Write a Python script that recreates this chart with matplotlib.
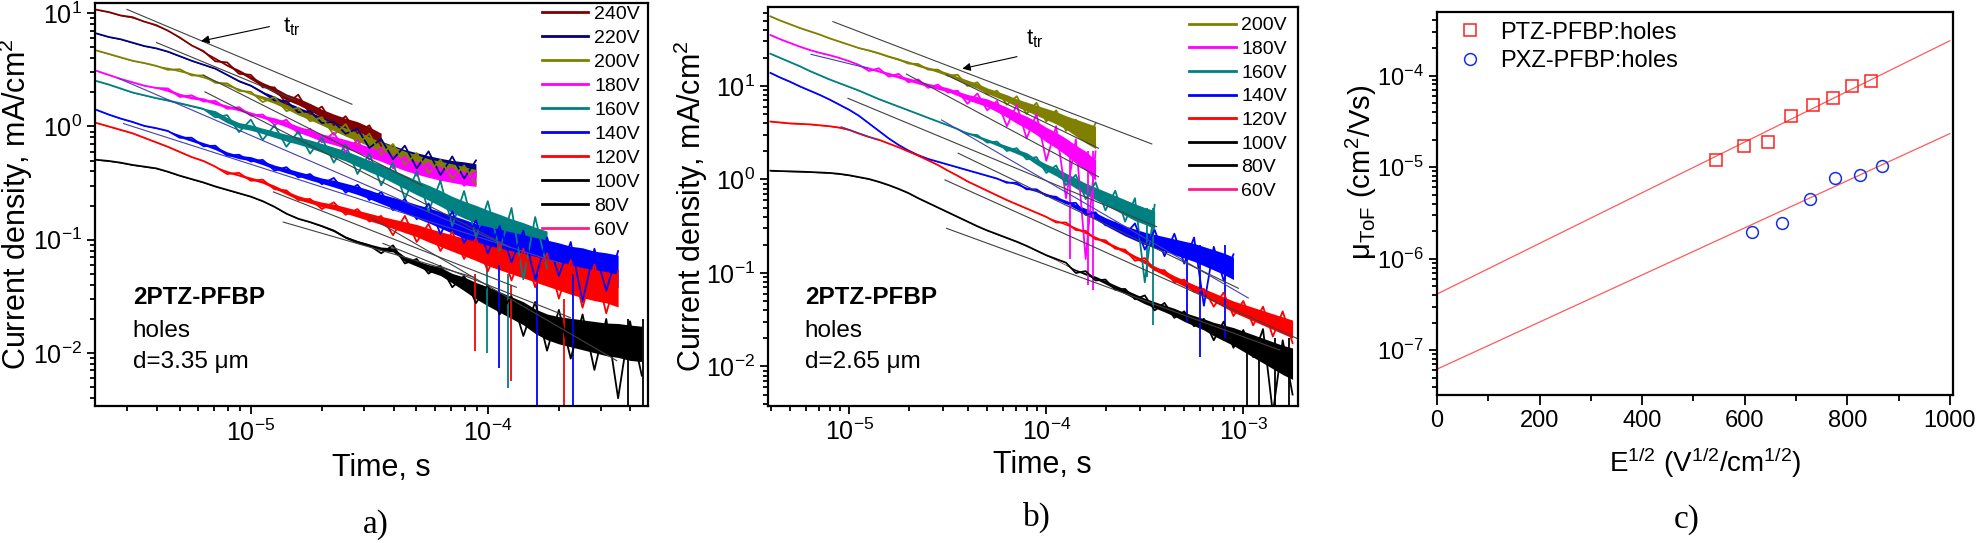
import numpy as np
import matplotlib
matplotlib.use('Agg')
import matplotlib.pyplot as plt
from matplotlib.lines import Line2D
from matplotlib.ticker import LogLocator, NullFormatter, MultipleLocator

plt.rcParams['font.family'] = ['Liberation Sans', 'DejaVu Sans']
plt.rcParams['mathtext.fontset'] = 'custom'
plt.rcParams['mathtext.rm'] = 'Liberation Sans'
plt.rcParams['mathtext.it'] = 'Liberation Sans:italic'
plt.rcParams['mathtext.bf'] = 'Liberation Sans:bold'

# ---- a) 2PTZ-PFBP, d=3.35 um
# log10(t, s) grid; per voltage: tr = read trace log10(j, mA/cm2) (peaks/valleys),
# mid = trace centre, nz = half width of the noise band (decades)
lg_t_a = [-5.65, -5.60, -5.55, -5.50, -5.45, -5.40, -5.35, -5.30, -5.25, -5.20,
          -5.15, -5.10, -5.05, -5.00, -4.95, -4.90, -4.85, -4.80, -4.75, -4.70,
          -4.65, -4.60, -4.55, -4.50, -4.45, -4.40, -4.35, -4.30, -4.25, -4.20,
          -4.15, -4.10, -4.05, -4.00, -3.95, -3.90, -3.85, -3.80, -3.75, -3.70,
          -3.65, -3.60, -3.55, -3.50, -3.45, -3.40, -3.35]
tr_a_240 = [1.03, 1.01, 0.98, 0.965, 0.925, 0.895, 0.845, 0.785, 0.715, 0.665,
            0.575, 0.565, 0.465, 0.455, 0.345, 0.345, 0.20, 0.28, 0.11, 0.175,
            0.01, 0.09, -0.06, 0.01, -0.17]
mid_a_240 = [1.03, 1.01, 0.98, 0.96, 0.93, 0.89, 0.85, 0.78, 0.72, 0.66,
             0.60, 0.54, 0.49, 0.43, 0.37, 0.32, 0.26, 0.22, 0.17, 0.115,
             0.07, 0.03, 0.0, -0.05, -0.105]
nz_a_240 = [0.005, 0.005, 0.005, 0.005, 0.005, 0.005, 0.005, 0.005, 0.005, 0.01,
            0.015, 0.015, 0.02, 0.025, 0.03, 0.04, 0.045, 0.05, 0.055, 0.06,
            0.065, 0.07, 0.07, 0.075, 0.075]
tr_a_220 = [0.82, 0.79, 0.77, 0.74, 0.71, 0.69, 0.66, 0.62, 0.58, 0.545,
            0.51, 0.455, 0.40, 0.36, 0.30, 0.23, 0.225, 0.125, 0.135, 0.03,
            0.04, -0.065, -0.02, -0.19, -0.11, -0.29, -0.17, -0.37, -0.22, -0.43,
            -0.265, -0.46, -0.30]
mid_a_220 = [0.82, 0.79, 0.77, 0.74, 0.71, 0.69, 0.66, 0.62, 0.58, 0.545,
             0.51, 0.455, 0.40, 0.36, 0.30, 0.255, 0.20, 0.155, 0.105, 0.06,
             0.01, -0.035, -0.08, -0.13, -0.17, -0.21, -0.25, -0.28, -0.31, -0.335,
             -0.355, -0.37, -0.39]
nz_a_220 = [0.005, 0.005, 0.005, 0.005, 0.005, 0.005, 0.005, 0.005, 0.005, 0.005,
            0.005, 0.005, 0.01, 0.01, 0.015, 0.02, 0.025, 0.03, 0.035, 0.04,
            0.045, 0.05, 0.055, 0.06, 0.065, 0.07, 0.075, 0.08, 0.085, 0.09,
            0.09, 0.095, 0.10]
tr_a_200 = [0.67, 0.64, 0.61, 0.58, 0.56, 0.535, 0.50, 0.505, 0.45, 0.45,
            0.385, 0.38, 0.315, 0.305, 0.215, 0.26, 0.135, 0.165, 0.045, 0.08,
            -0.075, 0.02, -0.16, -0.065, -0.25, -0.155, -0.34, -0.235, -0.41, -0.295,
            -0.46, -0.345, -0.51]
mid_a_200 = [0.67, 0.64, 0.61, 0.58, 0.56, 0.535, 0.515, 0.49, 0.465, 0.435,
             0.40, 0.365, 0.33, 0.29, 0.255, 0.22, 0.175, 0.125, 0.085, 0.04,
             -0.005, -0.05, -0.09, -0.135, -0.18, -0.225, -0.27, -0.305, -0.34, -0.365,
             -0.39, -0.415, -0.44]
nz_a_200 = [0.005, 0.005, 0.005, 0.005, 0.005, 0.005, 0.012, 0.012, 0.012, 0.012,
            0.012, 0.012, 0.012, 0.012, 0.025, 0.03, 0.035, 0.04, 0.045, 0.05,
            0.055, 0.06, 0.065, 0.07, 0.075, 0.08, 0.085, 0.09, 0.09, 0.095,
            0.10, 0.10, 0.10]
tr_a_180 = [0.49, 0.455, 0.42, 0.39, 0.36, 0.34, 0.335, 0.26, 0.275, 0.22,
            0.225, 0.155, 0.17, 0.095, 0.105, 0.015, 0.06, -0.065, -0.02, -0.14,
            -0.055, -0.225, -0.12, -0.295, -0.19, -0.37, -0.265, -0.435, -0.32, -0.485,
            -0.365, -0.525, -0.40]
mid_a_180 = [0.49, 0.455, 0.42, 0.39, 0.36, 0.34, 0.32, 0.28, 0.255, 0.24,
             0.205, 0.175, 0.15, 0.115, 0.085, 0.055, 0.02, -0.025, -0.06, -0.10,
             -0.125, -0.155, -0.19, -0.225, -0.26, -0.30, -0.335, -0.365, -0.39, -0.415,
             -0.435, -0.455, -0.47]
nz_a_180 = [0.005, 0.005, 0.005, 0.005, 0.005, 0.005, 0.02, 0.02, 0.02, 0.02,
            0.02, 0.02, 0.02, 0.02, 0.02, 0.035, 0.04, 0.045, 0.05, 0.055,
            0.06, 0.065, 0.07, 0.075, 0.08, 0.085, 0.09, 0.095, 0.10, 0.10,
            0.10, 0.10, 0.10]
tr_a_160 = [0.40, 0.37, 0.335, 0.30, 0.275, 0.25, 0.23, 0.205, 0.18, 0.155,
            0.08, 0.10, -0.05, 0.06, -0.12, 0.01, -0.18, -0.045, -0.24, -0.10,
            -0.32, -0.16, -0.42, -0.24, -0.52, -0.32, -0.64, -0.40, -0.75, -0.48,
            -0.88, -0.57, -0.98, -0.66, -1.10, -0.72, -1.35, -0.80, -1.25]
mid_a_160 = [0.40, 0.37, 0.335, 0.30, 0.275, 0.25, 0.23, 0.205, 0.18, 0.155,
             0.115, 0.055, 0.01, -0.01, -0.04, -0.07, -0.10, -0.125, -0.155, -0.19,
             -0.225, -0.26, -0.305, -0.35, -0.39, -0.44, -0.49, -0.54, -0.585, -0.635,
             -0.69, -0.735, -0.775, -0.82, -0.86, -0.90, -0.94, -0.98, -1.02]
nz_a_160 = [0.005, 0.005, 0.005, 0.005, 0.005, 0.005, 0.01, 0.01, 0.01, 0.01,
            0.04, 0.04, 0.04, 0.04, 0.04, 0.045, 0.05, 0.055, 0.06, 0.065,
            0.07, 0.075, 0.08, 0.085, 0.09, 0.095, 0.10, 0.105, 0.11, 0.115,
            0.12, 0.125, 0.13, 0.135, 0.14, 0.14, 0.15, 0.15, 0.16]
tr_a_140 = [0.145, 0.105, 0.07, 0.04, 0.005, -0.015, -0.04, -0.10, -0.10, -0.175,
            -0.17, -0.26, -0.25, -0.31, -0.295, -0.39, -0.36, -0.45, -0.42, -0.51,
            -0.455, -0.585, -0.515, -0.65, -0.58, -0.74, -0.64, -0.82, -0.68, -0.95,
            -0.75, -1.03, -0.83, -1.12, -0.88, -1.20, -0.92, -1.35, -0.98, -1.32,
            -1.02, -1.55, -1.08, -1.45, -1.10]
mid_a_140 = [0.145, 0.105, 0.07, 0.04, 0.005, -0.015, -0.04, -0.085, -0.12, -0.155,
             -0.19, -0.24, -0.27, -0.285, -0.32, -0.36, -0.39, -0.42, -0.45, -0.48,
             -0.505, -0.535, -0.565, -0.60, -0.64, -0.675, -0.71, -0.75, -0.785, -0.825,
             -0.865, -0.905, -0.95, -0.98, -1.01, -1.04, -1.07, -1.10, -1.13, -1.16,
             -1.19, -1.21, -1.24, -1.26, -1.28]
nz_a_140 = [0.005, 0.005, 0.005, 0.005, 0.005, 0.005, 0.005, 0.02, 0.02, 0.02,
            0.025, 0.025, 0.025, 0.03, 0.03, 0.03, 0.035, 0.035, 0.04, 0.04,
            0.05, 0.055, 0.06, 0.065, 0.07, 0.08, 0.09, 0.10, 0.11, 0.12,
            0.13, 0.14, 0.15, 0.16, 0.17, 0.18, 0.19, 0.20, 0.21, 0.22,
            0.22, 0.23, 0.23, 0.24, 0.24]
tr_a_120 = [0.03, 0.0, -0.03, -0.06, -0.10, -0.14, -0.18, -0.225, -0.27, -0.305,
            -0.355, -0.42, -0.41, -0.48, -0.47, -0.555, -0.565, -0.65, -0.64, -0.73,
            -0.67, -0.78, -0.73, -0.84, -0.79, -0.96, -0.79, -1.02, -0.86, -1.10,
            -0.93, -1.17, -0.99, -1.28, -1.03, -1.36, -1.08, -1.42, -1.12, -1.52,
            -1.18, -1.60, -1.22, -1.65, -1.28]
mid_a_120 = [0.03, 0.0, -0.03, -0.06, -0.10, -0.14, -0.18, -0.225, -0.27, -0.305,
             -0.355, -0.40, -0.43, -0.46, -0.49, -0.535, -0.585, -0.63, -0.66, -0.69,
             -0.71, -0.74, -0.77, -0.80, -0.83, -0.86, -0.89, -0.92, -0.96, -0.995,
             -1.03, -1.065, -1.10, -1.14, -1.17, -1.20, -1.23, -1.26, -1.29, -1.32,
             -1.35, -1.38, -1.40, -1.42, -1.45]
nz_a_120 = [0.005, 0.005, 0.005, 0.005, 0.005, 0.005, 0.005, 0.005, 0.005, 0.005,
            0.005, 0.015, 0.015, 0.02, 0.02, 0.025, 0.025, 0.03, 0.03, 0.035,
            0.04, 0.045, 0.05, 0.055, 0.06, 0.07, 0.08, 0.09, 0.10, 0.11,
            0.12, 0.13, 0.14, 0.15, 0.16, 0.17, 0.18, 0.19, 0.20, 0.21,
            0.22, 0.22, 0.23, 0.23, 0.24]
tr_a_100 = [-0.295, -0.305, -0.32, -0.34, -0.355, -0.37, -0.40, -0.435, -0.465, -0.495,
            -0.53, -0.56, -0.59, -0.62, -0.66, -0.71, -0.77, -0.815, -0.845, -0.88,
            -0.92, -0.98, -1.02, -1.05, -1.12, -1.05, -1.21, -1.17, -1.30, -1.23,
            -1.42, -1.32, -1.56, -1.40, -1.66, -1.50, -1.85, -1.55, -1.98, -1.62,
            -2.05, -1.66, -2.15, -1.70, -2.40, -1.72, -2.20]
mid_a_100 = [-0.295, -0.305, -0.32, -0.34, -0.355, -0.37, -0.40, -0.435, -0.465, -0.495,
             -0.53, -0.56, -0.59, -0.62, -0.66, -0.71, -0.77, -0.815, -0.845, -0.88,
             -0.92, -0.98, -1.02, -1.05, -1.08, -1.09, -1.17, -1.21, -1.25, -1.28,
             -1.34, -1.39, -1.45, -1.50, -1.55, -1.60, -1.65, -1.72, -1.77, -1.80,
             -1.82, -1.84, -1.86, -1.88, -1.89, -1.91, -1.92]
nz_a_100 = [0.005, 0.005, 0.005, 0.005, 0.005, 0.005, 0.005, 0.005, 0.005, 0.005,
            0.005, 0.005, 0.005, 0.005, 0.005, 0.005, 0.005, 0.005, 0.005, 0.01,
            0.015, 0.015, 0.02, 0.02, 0.025, 0.03, 0.035, 0.04, 0.05, 0.06,
            0.07, 0.10, 0.12, 0.14, 0.15, 0.16, 0.17, 0.18, 0.19, 0.20,
            0.21, 0.22, 0.23, 0.24, 0.25, 0.26, 0.26]
# downward spikes in a): time, low end, high end, trace
spike_a_t = [9.9e-5, 1.22e-4, 8.8e-5, 1.25e-4, 2.1e-4, 1.11e-4, 1.62e-4, 2.3e-4, 3.9e-4, 4.5e-4]
spike_a_lo = [0.0099, 0.0049, 0.0105, 0.0057, 0.0034, 0.0074, 0.0034, 0.0034, 0.0034, 0.0034]
spike_a_hi = [0.06, 0.05, 0.05, 0.04, 0.03, 0.06, 0.05, 0.05, 0.02, 0.02]
spike_a_v = ['160V', '160V', '120V', '120V', '120V', '140V', '140V', '140V', '100V', '100V']
# straight guide lines in a): (t start, t end), (j start, j end)
fit_a_t = [(3.0e-6, 2.67e-5), (4.0e-6, 1.54e-5), (6.3e-6, 5.3e-5), (6.4e-6, 1.24e-4),
           (2.76e-6, 1.24e-4), (2.9e-6, 2.02e-4), (1.245e-5, 1.32e-4), (1.37e-5, 8.7e-5),
           (3.18e-5, 3.5e-4), (3.61e-5, 2.23e-4)]
fit_a_j = [(10.8, 1.57), (5.5, 1.71), (2.84, 0.30), (2.02, 0.086),
           (2.66, 0.086), (1.06, 0.062), (0.264, 0.038), (0.143, 0.0467),
           (0.158, 0.00855), (0.0927, 0.0205)]

# ---- b) 2PTZ-PFBP, d=2.65 um
lg_t_b = [-5.40, -5.35, -5.30, -5.25, -5.20, -5.15, -5.10, -5.05, -5.00, -4.95,
          -4.90, -4.85, -4.80, -4.75, -4.70, -4.65, -4.60, -4.55, -4.50, -4.45,
          -4.40, -4.35, -4.30, -4.25, -4.20, -4.15, -4.10, -4.05, -4.00, -3.95,
          -3.90, -3.85, -3.80, -3.75, -3.70, -3.65, -3.60, -3.55, -3.50, -3.45,
          -3.40, -3.35, -3.30, -3.25, -3.20, -3.15, -3.10, -3.05, -3.00, -2.95,
          -2.90, -2.85, -2.80, -2.75]
tr_b_200 = [1.745, 1.70, 1.66, 1.62, 1.585, 1.55, 1.51, 1.475, 1.44, 1.405,
            1.38, 1.35, 1.315, 1.285, 1.24, 1.235, 1.175, 1.175, 1.11, 1.12,
            1.00, 1.04, 0.91, 0.95, 0.80, 0.89, 0.70, 0.82, 0.62, 0.74,
            0.52, 0.64, 0.42, 0.60]
mid_b_200 = [1.745, 1.70, 1.66, 1.62, 1.585, 1.55, 1.51, 1.475, 1.44, 1.405,
             1.38, 1.35, 1.315, 1.285, 1.255, 1.22, 1.19, 1.16, 1.125, 1.08,
             1.04, 1.00, 0.95, 0.91, 0.87, 0.82, 0.78, 0.74, 0.70, 0.66,
             0.61, 0.555, 0.50, 0.45]
nz_b_200 = [0.005, 0.005, 0.005, 0.005, 0.005, 0.005, 0.005, 0.005, 0.005, 0.005,
            0.01, 0.012, 0.014, 0.016, 0.018, 0.02, 0.02, 0.025, 0.03, 0.035,
            0.04, 0.045, 0.05, 0.055, 0.06, 0.07, 0.08, 0.09, 0.10, 0.11,
            0.12, 0.15, 0.18, 0.20]
tr_b_180 = [1.545, 1.50, 1.46, 1.42, 1.385, 1.355, 1.33, 1.30, 1.265, 1.225,
            1.16, 1.19, 1.10, 1.13, 1.04, 1.07, 0.98, 1.015, 0.93, 0.95,
            0.81, 0.92, 0.74, 0.84, 0.57, 0.80, 0.44, 0.70, 0.20, 0.57,
            -0.20, 0.43, -0.85, 0.30]
mid_b_180 = [1.545, 1.50, 1.46, 1.42, 1.385, 1.355, 1.33, 1.30, 1.265, 1.225,
             1.19, 1.16, 1.13, 1.10, 1.07, 1.04, 1.01, 0.985, 0.96, 0.92,
             0.88, 0.85, 0.82, 0.77, 0.72, 0.66, 0.61, 0.55, 0.48, 0.42,
             0.35, 0.27, 0.20, 0.10]
nz_b_180 = [0.005, 0.005, 0.005, 0.005, 0.005, 0.005, 0.005, 0.005, 0.005, 0.005,
            0.02, 0.02, 0.025, 0.025, 0.03, 0.03, 0.03, 0.035, 0.035, 0.04,
            0.05, 0.06, 0.07, 0.08, 0.09, 0.10, 0.11, 0.12, 0.13, 0.14,
            0.15, 0.16, 0.17, 0.18]
tr_b_160 = [1.345, 1.30, 1.255, 1.21, 1.16, 1.115, 1.07, 1.03, 0.99, 0.95,
            0.905, 0.86, 0.82, 0.78, 0.74, 0.70, 0.66, 0.62, 0.58, 0.54,
            0.485, 0.475, 0.395, 0.405, 0.305, 0.335, 0.215, 0.24, 0.07, 0.15,
            -0.06, 0.05, -0.21, -0.03, -0.33, -0.12, -0.45, -0.20, -1.10, -0.27]
mid_b_160 = [1.345, 1.30, 1.255, 1.21, 1.16, 1.115, 1.07, 1.03, 0.99, 0.95,
             0.905, 0.86, 0.82, 0.78, 0.74, 0.70, 0.66, 0.62, 0.58, 0.54,
             0.50, 0.46, 0.42, 0.38, 0.34, 0.30, 0.26, 0.19, 0.13, 0.08,
             0.02, -0.04, -0.10, -0.15, -0.20, -0.25, -0.30, -0.35, -0.39, -0.43]
nz_b_160 = [0.005, 0.005, 0.005, 0.005, 0.005, 0.005, 0.005, 0.005, 0.005, 0.005,
            0.005, 0.005, 0.005, 0.005, 0.005, 0.005, 0.005, 0.005, 0.005, 0.005,
            0.015, 0.02, 0.025, 0.03, 0.035, 0.04, 0.045, 0.05, 0.06, 0.07,
            0.08, 0.09, 0.10, 0.11, 0.12, 0.13, 0.14, 0.15, 0.15, 0.16]
tr_b_140 = [1.14, 1.09, 1.045, 0.995, 0.95, 0.905, 0.855, 0.80, 0.745, 0.68,
            0.60, 0.52, 0.44, 0.37, 0.31, 0.26, 0.22, 0.19, 0.16, 0.13,
            0.10, 0.07, 0.04, 0.01, -0.035, -0.035, -0.105, -0.105, -0.175, -0.185,
            -0.255, -0.25, -0.38, -0.35, -0.49, -0.46, -0.59, -0.47, -0.75, -0.54,
            -0.82, -0.58, -0.90, -0.62, -1.35, -0.72, -1.08, -0.80]
mid_b_140 = [1.14, 1.09, 1.045, 0.995, 0.95, 0.905, 0.855, 0.80, 0.745, 0.68,
             0.60, 0.52, 0.44, 0.37, 0.31, 0.26, 0.22, 0.19, 0.16, 0.13,
             0.10, 0.07, 0.04, 0.01, -0.02, -0.05, -0.09, -0.12, -0.16, -0.20,
             -0.24, -0.29, -0.34, -0.39, -0.45, -0.50, -0.55, -0.59, -0.63, -0.66,
             -0.69, -0.72, -0.75, -0.78, -0.82, -0.86, -0.90, -0.95]
nz_b_140 = [0.005, 0.005, 0.005, 0.005, 0.005, 0.005, 0.005, 0.005, 0.005, 0.005,
            0.005, 0.005, 0.005, 0.005, 0.005, 0.005, 0.005, 0.005, 0.005, 0.005,
            0.005, 0.005, 0.005, 0.005, 0.01, 0.012, 0.015, 0.018, 0.02, 0.025,
            0.03, 0.04, 0.05, 0.06, 0.07, 0.08, 0.09, 0.10, 0.11, 0.12,
            0.13, 0.14, 0.15, 0.16, 0.17, 0.18, 0.19, 0.20]
tr_b_120 = [0.62, 0.61, 0.60, 0.595, 0.59, 0.58, 0.57, 0.555, 0.53, 0.49,
            0.455, 0.425, 0.385, 0.345, 0.30, 0.255, 0.205, 0.155, 0.095, 0.04,
            -0.02, -0.07, -0.12, -0.17, -0.22, -0.265, -0.31, -0.355, -0.40, -0.46,
            -0.46, -0.54, -0.55, -0.64, -0.65, -0.74, -0.75, -0.87, -0.84, -0.97,
            -0.97, -1.10, -1.07, -1.20, -1.17, -1.36, -1.21, -1.46, -1.30, -1.56,
            -1.36, -1.68, -1.41, -1.75]
mid_b_120 = [0.62, 0.61, 0.60, 0.595, 0.59, 0.58, 0.57, 0.555, 0.53, 0.49,
             0.455, 0.425, 0.385, 0.345, 0.30, 0.255, 0.205, 0.155, 0.095, 0.04,
             -0.02, -0.07, -0.12, -0.17, -0.22, -0.265, -0.31, -0.355, -0.40, -0.44,
             -0.48, -0.52, -0.57, -0.62, -0.67, -0.72, -0.77, -0.83, -0.88, -0.95,
             -1.00, -1.06, -1.11, -1.16, -1.21, -1.26, -1.31, -1.36, -1.40, -1.44,
             -1.48, -1.52, -1.56, -1.60]
nz_b_120 = [0.005, 0.005, 0.005, 0.005, 0.005, 0.005, 0.005, 0.005, 0.005, 0.005,
            0.005, 0.005, 0.005, 0.005, 0.005, 0.005, 0.005, 0.005, 0.005, 0.005,
            0.005, 0.005, 0.005, 0.005, 0.005, 0.005, 0.005, 0.005, 0.005, 0.012,
            0.014, 0.016, 0.018, 0.02, 0.022, 0.025, 0.028, 0.03, 0.035, 0.04,
            0.045, 0.05, 0.055, 0.06, 0.07, 0.08, 0.09, 0.10, 0.11, 0.12,
            0.13, 0.14, 0.15, 0.16]
tr_b_100 = [0.094, 0.09, 0.087, 0.084, 0.08, 0.075, 0.07, 0.06, 0.045, 0.025,
            0.005, -0.025, -0.06, -0.10, -0.145, -0.20, -0.25, -0.30, -0.35, -0.40,
            -0.45, -0.50, -0.545, -0.585, -0.625, -0.665, -0.71, -0.76, -0.81, -0.85,
            -0.89, -1.00, -0.98, -1.08, -1.07, -1.18, -1.17, -1.28, -1.24, -1.40,
            -1.32, -1.48, -1.41, -1.57, -1.49, -1.72, -1.52, -1.80, -1.61, -1.90,
            -1.60, -2.50, -1.72, -2.30]
mid_b_100 = [0.094, 0.09, 0.087, 0.084, 0.08, 0.075, 0.07, 0.06, 0.045, 0.025,
             0.005, -0.025, -0.06, -0.10, -0.145, -0.20, -0.25, -0.30, -0.35, -0.40,
             -0.45, -0.50, -0.545, -0.585, -0.625, -0.665, -0.71, -0.76, -0.81, -0.86,
             -0.915, -0.97, -1.01, -1.05, -1.10, -1.15, -1.20, -1.25, -1.30, -1.34,
             -1.38, -1.42, -1.47, -1.51, -1.55, -1.60, -1.64, -1.68, -1.73, -1.78,
             -1.83, -1.88, -1.93, -1.97]
nz_b_100 = [0.005, 0.005, 0.005, 0.005, 0.005, 0.005, 0.005, 0.005, 0.005, 0.005,
            0.005, 0.005, 0.005, 0.005, 0.005, 0.005, 0.005, 0.005, 0.005, 0.005,
            0.005, 0.005, 0.005, 0.005, 0.005, 0.005, 0.005, 0.005, 0.005, 0.005,
            0.005, 0.015, 0.02, 0.025, 0.03, 0.035, 0.04, 0.045, 0.05, 0.055,
            0.06, 0.07, 0.08, 0.09, 0.10, 0.12, 0.14, 0.16, 0.18, 0.20,
            0.22, 0.24, 0.26, 0.28]
spike_b_t = [1.32e-4, 1.63e-4, 1.73e-4, 3.24e-4, 3.49e-4, 5.2e-4, 6.0e-4, 8.1e-4,
             1.05e-3, 1.2e-3, 1.45e-3, 1.7e-3]
spike_b_lo = [0.14, 0.075, 0.066, 0.09, 0.028, 0.03, 0.0126, 0.02, 0.0038, 0.0038, 0.0038, 0.0038]
spike_b_hi = [2.0, 2.0, 2.0, 0.5, 0.5, 0.2, 0.2, 0.2, 0.02, 0.02, 0.02, 0.02]
spike_b_v = ['180V', '180V', '180V', '160V', '160V', '140V', '140V', '140V',
             '100V', '100V', '100V', '100V']
fit_b_t = [(8.26e-6, 3.43e-4), (3.12e-5, 1.84e-4), (1.95e-5, 1.84e-4), (9.85e-6, 3.63e-4),
           (2.94e-5, 1.06e-3), (3.57e-5, 9.44e-4), (3.06e-5, 1.87e-3), (3.12e-5, 1.53e-3),
           (6.4e-6, 1.24e-5), (9.1e-6, 1.4e-5)]
fit_b_j = [(48.8, 2.40), (13.1, 2.16), (13.4, 1.07), (7.38, 0.313),
           (4.33, 0.054), (1.91, 0.0686), (0.989, 0.020), (0.30, 0.015),
           (21.8, 15.5), (3.67, 2.64)]

# ---- c) ToF mobility vs sqrt(E)
e_ptz = [545, 599, 646, 691, 733, 773, 810, 846]
mu_ptz = [1.19e-5, 1.70e-5, 1.90e-5, 3.59e-5, 4.78e-5, 5.73e-5, 7.64e-5, 8.63e-5]
e_pxz = [614, 673, 727, 777, 824, 868]
mu_pxz = [1.95e-6, 2.45e-6, 4.5e-6, 7.7e-6, 8.26e-6, 1.02e-5]
fit_c_e = [0, 1000]
fit_c_ptz = [4.1e-7, 2.4e-4]
fit_c_pxz = [6.2e-8, 2.32e-5]

volt_colors = {'240V': '#800000', '220V': '#000080', '200V': '#808000', '180V': '#FF00FF',
               '160V': '#008080', '140V': '#0000FF', '120V': '#FF0000', '100V': '#000000',
               '80V': '#000000', '60V': '#FF1A8C'}
legend_a = ['240V', '220V', '200V', '180V', '160V', '140V', '120V', '100V', '80V', '60V']
legend_b = ['200V', '180V', '160V', '140V', '120V', '100V', '80V', '60V']
traces_a = [('240V', tr_a_240, mid_a_240, nz_a_240), ('220V', tr_a_220, mid_a_220, nz_a_220),
            ('200V', tr_a_200, mid_a_200, nz_a_200), ('180V', tr_a_180, mid_a_180, nz_a_180),
            ('160V', tr_a_160, mid_a_160, nz_a_160), ('140V', tr_a_140, mid_a_140, nz_a_140),
            ('120V', tr_a_120, mid_a_120, nz_a_120), ('100V', tr_a_100, mid_a_100, nz_a_100)]
traces_b = [('200V', tr_b_200, mid_b_200, nz_b_200), ('180V', tr_b_180, mid_b_180, nz_b_180),
            ('160V', tr_b_160, mid_b_160, nz_b_160), ('140V', tr_b_140, mid_b_140, nz_b_140),
            ('120V', tr_b_120, mid_b_120, nz_b_120), ('100V', tr_b_100, mid_b_100, nz_b_100)]

BAND_CORE = 0.6  # draw the dense core of each noise band, the trace supplies the spikes


def style_axes(ax, labelsize):
    for s in ax.spines.values():
        s.set_linewidth(1.6)
    ax.tick_params(which='both', direction='out', top=False, right=False,
                   labelsize=labelsize, width=1.3)
    ax.tick_params(which='major', length=6)
    ax.tick_params(which='minor', length=3.5)


def log_ticks(axis):
    axis.set_major_locator(LogLocator(base=10, numticks=30))
    axis.set_minor_locator(LogLocator(base=10, subs=np.arange(2, 10), numticks=300))
    axis.set_minor_formatter(NullFormatter())


def tof_panel(ax, lg_t, traces, spikes, fit_t, fit_j, fit_cols):
    t = np.array(lg_t)
    sp_t, sp_lo, sp_hi, sp_v = spikes
    for v, tr, mid, nz in traces:
        tt = 10 ** t[:len(tr)]
        c = np.array(mid)
        w = BAND_CORE * np.array(nz)
        col = volt_colors[v]
        ax.fill_between(tt, 10 ** (c - w), 10 ** (c + w), color=col, lw=0)
        ax.plot(tt, 10 ** np.array(tr), color=col, lw=1.3)
        for ts, lo, hi, sv in zip(sp_t, sp_lo, sp_hi, sp_v):
            if sv == v:
                ax.vlines(ts, lo, hi, color=col, lw=1.3)
    for (t0, t1), (j0, j1), col in zip(fit_t, fit_j, fit_cols):
        ax.plot([t0, t1], [j0, j1], color=col, lw=0.8)
    ax.set_xscale('log')
    ax.set_yscale('log')
    log_ticks(ax.xaxis)
    log_ticks(ax.yaxis)
    style_axes(ax, 18)


fig = plt.figure(figsize=(19.76, 5.43), dpi=100)

# a)
ax1 = fig.add_axes([0.0481, 0.2523, 0.2799, 0.7422])
fit_cols_a = ['#404040'] * 4 + ['#4040B0', '#4040B0'] + ['#404040'] * 4
tof_panel(ax1, lg_t_a, traces_a, (spike_a_t, spike_a_lo, spike_a_hi, spike_a_v),
          fit_a_t, fit_a_j, fit_cols_a)
ax1.set_xlim(2.2e-6, 4.75e-4)
ax1.set_ylim(3.4e-3, 12.3)
h = [Line2D([], [], color=volt_colors[v], lw=2) for v in legend_a]
ax1.legend(h, legend_a, loc='upper right', bbox_to_anchor=(0.985, 0.995), frameon=False,
           fontsize=14, handlelength=2.4, handletextpad=0.3, labelspacing=0.33,
           borderpad=0, borderaxespad=0)
ax1.annotate('', xy=(6.0e-6, 5.6), xytext=(1.23e-5, 7.7),
             arrowprops=dict(arrowstyle='-|>', color='k', lw=0.8, mutation_scale=12))
ax1.text(1.37e-5, 7.6, r'$\mathregular{t_{tr}}$', fontsize=16, va='center', ha='left')
ax1.text(0.068, 0.269, '2PTZ-PFBP', transform=ax1.transAxes, fontsize=17.5,
         fontweight='bold', va='center')
ax1.text(0.068, 0.186, 'holes', transform=ax1.transAxes, fontsize=17.5, va='center')
ax1.text(0.068, 0.109, 'd=3.35 μm', transform=ax1.transAxes, fontsize=17.5, va='center')
ax1.set_xlabel('Time, s', fontsize=22)
ax1.set_ylabel('Current density, mA/cm$^2$', fontsize=22)
ax1.xaxis.set_label_coords(0.517, -0.117)
ax1.yaxis.set_label_coords(-0.108, 0.5)

# b)
ax2 = fig.add_axes([0.3888, 0.2529, 0.2682, 0.7337])
fit_cols_b = ['#404040'] * 4 + ['#4040B0'] + ['#404040'] * 3 + ['#4040B0', '#4040B0']
tof_panel(ax2, lg_t_b, traces_b, (spike_b_t, spike_b_lo, spike_b_hi, spike_b_v),
          fit_b_t, fit_b_j, fit_cols_b)
ax2.set_xlim(3.88e-6, 1.9e-3)
ax2.set_ylim(3.81e-3, 69.5)
h = [Line2D([], [], color=volt_colors[v], lw=2) for v in legend_b]
ax2.legend(h, legend_b, loc='upper right', bbox_to_anchor=(0.979, 0.976), frameon=False,
           fontsize=14, handlelength=2.4, handletextpad=0.3, labelspacing=0.31,
           borderpad=0, borderaxespad=0)
ax2.annotate('', xy=(3.63e-5, 15.1), xytext=(7.33e-5, 20.9),
             arrowprops=dict(arrowstyle='-|>', color='k', lw=0.8, mutation_scale=12))
ax2.text(7.9e-5, 32.4, r'$\mathregular{t_{tr}}$', fontsize=16, va='center', ha='left')
ax2.text(0.069, 0.272, '2PTZ-PFBP', transform=ax2.transAxes, fontsize=17.5,
         fontweight='bold', va='center')
ax2.text(0.069, 0.188, 'holes', transform=ax2.transAxes, fontsize=17.5, va='center')
ax2.text(0.069, 0.110, 'd=2.65 μm', transform=ax2.transAxes, fontsize=17.5, va='center')
ax2.set_xlabel('Time, s', fontsize=22)
ax2.set_ylabel('Current density, mA/cm$^2$', fontsize=22)
ax2.xaxis.set_label_coords(0.518, -0.111)
ax2.yaxis.set_label_coords(-0.110, 0.5)

# c)
ax3 = fig.add_axes([0.7272, 0.2726, 0.2611, 0.7053])
ax3.plot(fit_c_e, fit_c_ptz, color='#FF5A5A', lw=0.9)
ax3.plot(fit_c_e, fit_c_pxz, color='#FF5A5A', lw=0.9)
ax3.plot(e_ptz, mu_ptz, 's', mfc='none', mec='#FF2020', ms=8, mew=1.1,
         label='PTZ-PFBP:holes')
ax3.plot(e_pxz, mu_pxz, 'o', mfc='none', mec='#1530E0', ms=8.5, mew=1.1,
         label='PXZ-PFBP:holes')
ax3.set_yscale('log')
ax3.set_xlim(0, 1006)
ax3.set_ylim(3.24e-8, 4.95e-4)
log_ticks(ax3.yaxis)
ax3.xaxis.set_major_locator(MultipleLocator(200))
ax3.xaxis.set_minor_locator(MultipleLocator(100))
style_axes(ax3, 17)
ax3.tick_params(axis='x', which='major', length=7)
ax3.tick_params(axis='x', which='minor', length=4.5)
ax3.legend(loc='upper left', bbox_to_anchor=(0.045, 0.975), frameon=False, fontsize=17,
           handlelength=0.8, handletextpad=0.9, labelspacing=0.27,
           borderpad=0, borderaxespad=0)
ax3.set_xlabel('E$^{1/2}$ (V$^{1/2}$/cm$^{1/2}$)', fontsize=20)
ax3.set_ylabel('μ$_{\\mathregular{ToF}}$ (cm$^2$/Vs)', fontsize=21)
ax3.xaxis.set_label_coords(0.519, -0.133)
ax3.yaxis.set_label_coords(-0.112, 0.582)

for x, y, s in [(0.190, 0.033, 'a)'), (0.5246, 0.047, 'b)'), (0.8537, 0.044, 'c)')]:
    fig.text(x, y, s, fontsize=24, family=['Liberation Serif', 'DejaVu Serif'],
             ha='center', va='center')

fig.savefig('out.png', dpi=100)
